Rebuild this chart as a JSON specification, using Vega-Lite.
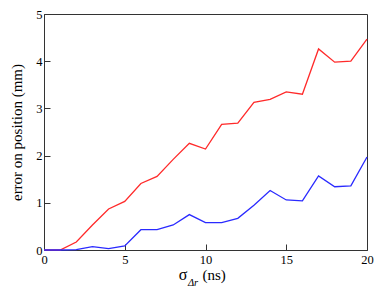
{
  "$schema": "https://vega.github.io/schema/vega-lite/v6.json",
  "width": 323,
  "height": 236,
  "autosize": {"type": "none"},
  "padding": {"left": 44, "top": 14, "right": 15, "bottom": 45},
  "background": "white",
  "config": {
    "view": {"stroke": "#333", "strokeWidth": 1},
    "font": "Liberation Serif, serif"
  },
  "datasets": {
    "err": [
      {"s": 0, "series": "red", "e": 0}, {"s": 1, "series": "red", "e": 0}, {"s": 2, "series": "red", "e": 0.17},
      {"s": 3, "series": "red", "e": 0.53}, {"s": 4, "series": "red", "e": 0.87}, {"s": 5, "series": "red", "e": 1.03},
      {"s": 6, "series": "red", "e": 1.41}, {"s": 7, "series": "red", "e": 1.56}, {"s": 8, "series": "red", "e": 1.92},
      {"s": 9, "series": "red", "e": 2.26}, {"s": 10, "series": "red", "e": 2.14}, {"s": 11, "series": "red", "e": 2.66},
      {"s": 12, "series": "red", "e": 2.69}, {"s": 13, "series": "red", "e": 3.13}, {"s": 14, "series": "red", "e": 3.19},
      {"s": 15, "series": "red", "e": 3.35}, {"s": 16, "series": "red", "e": 3.30}, {"s": 17, "series": "red", "e": 4.26},
      {"s": 18, "series": "red", "e": 3.98}, {"s": 19, "series": "red", "e": 4.00}, {"s": 20, "series": "red", "e": 4.47},
      {"s": 0, "series": "blue", "e": 0}, {"s": 1, "series": "blue", "e": 0}, {"s": 2, "series": "blue", "e": 0.01},
      {"s": 3, "series": "blue", "e": 0.07}, {"s": 4, "series": "blue", "e": 0.03}, {"s": 5, "series": "blue", "e": 0.085},
      {"s": 6, "series": "blue", "e": 0.43}, {"s": 7, "series": "blue", "e": 0.43}, {"s": 8, "series": "blue", "e": 0.53},
      {"s": 9, "series": "blue", "e": 0.75}, {"s": 10, "series": "blue", "e": 0.58}, {"s": 11, "series": "blue", "e": 0.58},
      {"s": 12, "series": "blue", "e": 0.67}, {"s": 13, "series": "blue", "e": 0.95}, {"s": 14, "series": "blue", "e": 1.26},
      {"s": 15, "series": "blue", "e": 1.06}, {"s": 16, "series": "blue", "e": 1.04}, {"s": 17, "series": "blue", "e": 1.57},
      {"s": 18, "series": "blue", "e": 1.34}, {"s": 19, "series": "blue", "e": 1.36}, {"s": 20, "series": "blue", "e": 1.97}
    ],
    "one": [{}]
  },
  "layer": [
    {
      "data": {"name": "err"},
      "mark": {"type": "line", "strokeWidth": 1.3},
      "encoding": {
        "x": {
          "field": "s", "type": "quantitative",
          "scale": {"domain": [0, 20], "nice": false, "zero": false},
          "axis": {
            "values": [0, 5, 10, 15, 20], "format": "d", "title": null,
            "grid": false, "domainColor": "#333", "tickColor": "#333",
            "tickSize": -6, "labelPadding": 9,
            "labelFont": "Liberation Serif, serif", "labelFontSize": 12.5, "labelColor": "#000",
            "labelFlush": false
          }
        },
        "y": {
          "field": "e", "type": "quantitative",
          "scale": {"domain": [0, 5], "nice": false},
          "axis": {
            "values": [0, 1, 2, 3, 4, 5], "format": "d",
            "title": "error on position (mm)",
            "titleFont": "Liberation Serif, serif", "titleFontSize": 15, "titleFontWeight": "normal", "titleColor": "#000",
            "titleX": -28, "titleY": 118, "titleAngle": -90, "titleAlign": "center", "titleBaseline": "middle",
            "grid": false, "domainColor": "#333", "tickColor": "#333",
            "tickSize": -6, "labelPadding": 8,
            "labelFont": "Liberation Serif, serif", "labelFontSize": 12.5, "labelColor": "#000",
            "labelFlush": false
          }
        },
        "color": {
          "field": "series", "type": "nominal",
          "scale": {"domain": ["red", "blue"], "range": ["#ff2a2a", "#2a2aff"]},
          "legend": null
        }
      }
    },
    {
      "data": {"name": "one"},
      "mark": {"type": "text", "text": "σ", "font": "Liberation Serif, serif", "fontSize": 16, "align": "center", "baseline": "middle", "color": "#000"},
      "encoding": {"x": {"datum": 8.61, "type": "quantitative"}, "y": {"datum": -0.52, "type": "quantitative"}}
    },
    {
      "data": {"name": "one"},
      "mark": {"type": "text", "text": "Δr", "font": "Liberation Serif, serif", "fontSize": 10.5, "fontStyle": "italic", "align": "center", "baseline": "middle", "color": "#000"},
      "encoding": {"x": {"datum": 9.23, "type": "quantitative"}, "y": {"datum": -0.70, "type": "quantitative"}}
    },
    {
      "data": {"name": "one"},
      "mark": {"type": "text", "text": "(ns)", "font": "Liberation Serif, serif", "fontSize": 15, "align": "center", "baseline": "middle", "color": "#000"},
      "encoding": {"x": {"datum": 10.53, "type": "quantitative"}, "y": {"datum": -0.53, "type": "quantitative"}}
    }
  ]
}
